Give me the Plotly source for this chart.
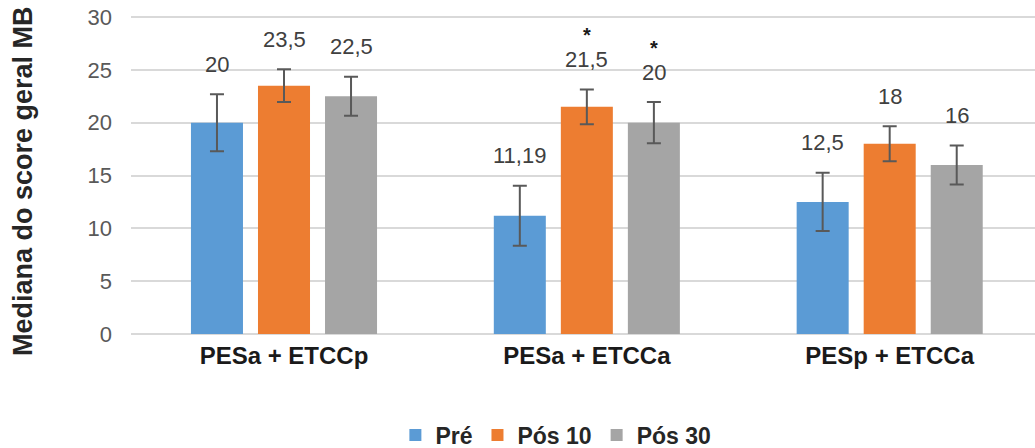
import plotly.graph_objects as go

# ---- data ----
categories = ["PESa + ETCCp", "PESa + ETCCa", "PESp + ETCCa"]
series_names = ["Pré", "Pós 10", "Pós 30"]
pre_values = [20, 11.19, 12.5]
pos10_values = [23.5, 21.5, 18]
pos30_values = [22.5, 20, 16]
pre_errors = [2.7, 2.85, 2.75]
pos10_errors = [1.55, 1.65, 1.65]
pos30_errors = [1.85, 1.95, 1.85]
pos10_signif = [False, True, False]
pos30_signif = [False, True, False]
y_ticks = [0, 5, 10, 15, 20, 25, 30]

# ---- style ----
colors = ["#5B9BD5", "#ED7D31", "#A5A5A5"]
FONT = "Liberation Sans"
BARGAP = 0.336
TOP, BOTTOM_PX = 14, 334          # plot area top / zero line (px)
Y_MAX = 30 * (BOTTOM_PX - TOP) / (BOTTOM_PX - 17)   # puts the 30 gridline at 17px
values = [pre_values, pos10_values, pos30_values]
errors = [pre_errors, pos10_errors, pos30_errors]
signif = [[False] * 3, pos10_signif, pos30_signif]


def fmt(v):
    return f"{v:g}".replace(".", ",")


fig = go.Figure()
for name, vals, errs, col in zip(series_names, values, errors, colors):
    fig.add_trace(go.Bar(
        name=name, x=categories, y=vals, marker=dict(color=col, line=dict(width=0)),
        error_y=dict(type="data", array=errs, visible=True, color="#595959",
                     thickness=2, width=7),
    ))

annotations = []
slot = (1 - BARGAP) / len(series_names)
for si, (vals, errs, sig) in enumerate(zip(values, errors, signif)):
    for ci, (v, e, s) in enumerate(zip(vals, errs, sig)):
        xpos = ci + (si - 1) * slot
        annotations.append(dict(
            x=xpos, y=v + e, xref="x", yref="y", text=fmt(v), showarrow=False,
            yanchor="middle", yshift=30,
            font=dict(family=FONT, size=22, color="#404040"),
        ))
        if s:
            annotations.append(dict(
                x=xpos, y=v + e, xref="x", yref="y", text="<b>*</b>", showarrow=False,
                yanchor="middle", yshift=54,
                font=dict(family=FONT, size=20, color="#1a1a1a"),
            ))

annotations.append(dict(
    x=0, y=0.5, xref="paper", yref="paper", xshift=-108, yshift=-7,
    text="<b>Mediana do score geral MB</b>", textangle=-90, showarrow=False,
    xanchor="center", yanchor="middle",
    font=dict(family=FONT, size=27, color="#262626"),
))

plot_h = BOTTOM_PX - TOP
fig.update_layout(
    width=1035, height=448,
    margin=dict(l=131, r=0, t=TOP, b=448 - BOTTOM_PX, autoexpand=False),
    paper_bgcolor="white", plot_bgcolor="white",
    barmode="group", bargap=BARGAP, bargroupgap=0.224,
    showlegend=True,
    legend=dict(orientation="h", x=0.47, y=(BOTTOM_PX - 435) / plot_h,
                xanchor="center", yanchor="middle",
                font=dict(family=FONT, size=23, color="#262626", weight="bold"),
                itemwidth=30, traceorder="normal"),
    annotations=annotations,
    xaxis=dict(type="category", range=[-0.5052, 2.4798], showgrid=False, showline=False,
               ticks="", ticklabelstandoff=5,
               tickfont=dict(family=FONT, size=24, color="#1a1a1a", weight="bold")),
    yaxis=dict(range=[0, Y_MAX], tickvals=y_ticks, showgrid=True, gridcolor="#D9D9D9",
               gridwidth=1.5, zeroline=True, zerolinecolor="#D9D9D9", zerolinewidth=1.5,
               showline=False, ticks="", ticklabelstandoff=18,
               tickfont=dict(family=FONT, size=22, color="#595959")),
)

fig.write_html("out.html", config={"displayModeBar": False},
               post_script="document.body.style.margin='0px';")
